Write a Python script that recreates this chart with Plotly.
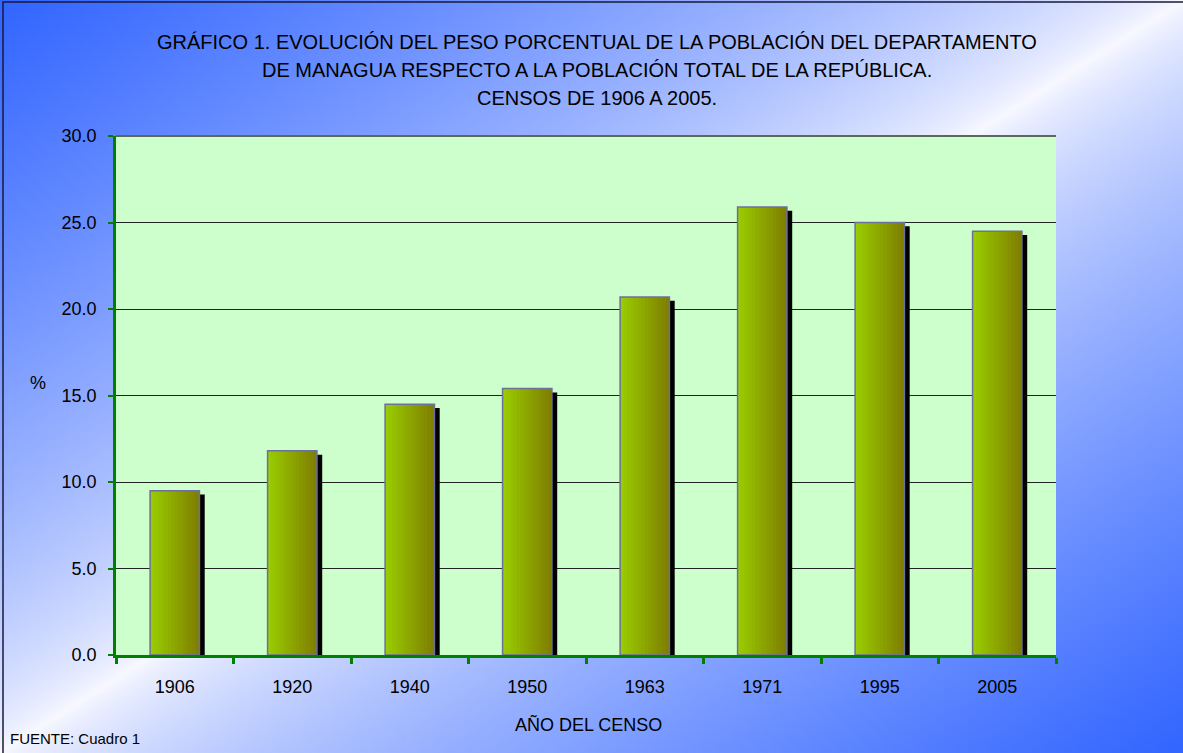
import base64, struct, zlib
import numpy as np
import plotly.graph_objects as go

# ---------------- data ----------------
years = ["1906", "1920", "1940", "1950", "1963", "1971", "1995", "2005"]
pct = [9.5, 11.8, 14.5, 15.4, 20.7, 25.9, 25.0, 24.5]
y_ticks = [0, 5, 10, 15, 20, 25, 30]
y_tick_labels = ["0.0", "5.0", "10.0", "15.0", "20.0", "25.0", "30.0"]

title_lines = [
    "GRÁFICO 1. EVOLUCIÓN DEL PESO PORCENTUAL DE LA POBLACIÓN DEL DEPARTAMENTO",
    "DE MANAGUA RESPECTO A LA POBLACIÓN TOTAL DE LA REPÚBLICA.",
    "CENSOS DE 1906 A 2005.",
]
x_title = "AÑO DEL CENSO"
y_title = "%"
source = "FUENTE: Cuadro 1"

# ---------------- layout geometry ----------------
W, H = 1183, 753
L, R, T, B = 116, 127, 136, 98
PW, PH = W - L - R, H - T - B
FONT = "Liberation Sans, Arial, sans-serif"


def px_x(px):
    return (px - L) / PW


def px_y(py):
    return 1 - (py - T) / PH


# ---------------- background gradient image ----------------
def make_bg(w=296, h=189):
    xs = np.linspace(0, 1, w)[None, :]
    ys = np.linspace(0, 1, h)[:, None]
    t = (xs + ys) / 2.0
    f = np.clip(np.abs(2 * t - 1), 0, 1) ** 0.7
    blue = np.array([51, 102, 255], float)
    white = np.array([250, 250, 255], float)
    img = white[None, None, :] * (1 - f[..., None]) + blue[None, None, :] * f[..., None]
    img = img.astype(np.uint8)
    raw = b"".join(b"\x00" + img[r].tobytes() for r in range(h))

    def chunk(tag, data):
        c = struct.pack(">I", len(data)) + tag + data
        return c + struct.pack(">I", zlib.crc32(tag + data) & 0xFFFFFFFF)

    png = b"\x89PNG\r\n\x1a\n"
    png += chunk(b"IHDR", struct.pack(">IIBBBBB", w, h, 8, 2, 0, 0, 0))
    png += chunk(b"IDAT", zlib.compress(raw, 9))
    png += chunk(b"IEND", b"")
    return "data:image/png;base64," + base64.b64encode(png).decode()


fig = go.Figure()

# ---------------- bars ----------------
bar_w = 0.42
shadow_dx = 0.045
shadow_drop = 0.22

# shadow
fig.add_trace(go.Bar(
    x=years, y=[v - shadow_drop for v in pct],
    width=bar_w, offset=-bar_w / 2 + shadow_dx,
    marker=dict(color="black", line=dict(width=0)),
    hoverinfo="skip", showlegend=False,
))

# gradient slices
N = 14
c0 = np.array([153, 204, 0], float)
c1 = np.array([128, 128, 0], float)
sw = bar_w / N
for i in range(N):
    f = i / (N - 1)
    c = c0 * (1 - f) + c1 * f
    fig.add_trace(go.Bar(
        x=years, y=pct,
        width=sw * 1.3 if i < N - 1 else sw,
        offset=-bar_w / 2 + i * sw,
        marker=dict(color="rgb(%d,%d,%d)" % tuple(c), line=dict(width=0)),
        hoverinfo="skip", showlegend=False,
    ))

# outline
fig.add_trace(go.Bar(
    x=years, y=pct, width=bar_w, offset=-bar_w / 2,
    marker=dict(color="rgba(0,0,0,0)", line=dict(color="#6f6f9f", width=1.5)),
    showlegend=False, name="%",
))

# ---------------- layout ----------------
ann = []
for i, (line, py) in enumerate(zip(title_lines, [42, 70, 98])):
    ann.append(dict(text=line, x=px_x(597), y=px_y(py), xref="paper", yref="paper",
                    xanchor="center", yanchor="middle", showarrow=False,
                    font=dict(family=FONT, size=20, color="black")))
ann.append(dict(text=y_title, x=px_x(38), y=px_y(383), xref="paper", yref="paper",
                xanchor="center", yanchor="middle", showarrow=False,
                font=dict(family=FONT, size=18, color="black")))
ann.append(dict(text=x_title, x=px_x(588), y=px_y(724), xref="paper", yref="paper",
                xanchor="center", yanchor="middle", showarrow=False,
                font=dict(family=FONT, size=18, color="black")))
ann.append(dict(text=source, x=px_x(8), y=px_y(738), xref="paper", yref="paper",
                xanchor="left", yanchor="middle", showarrow=False,
                font=dict(family=FONT, size=15, color="black")))

fig.update_layout(
    width=W, height=H,
    margin=dict(l=L, r=R, t=T, b=B, pad=0),
    barmode="overlay",
    paper_bgcolor="white",
    plot_bgcolor="#CCFFCC",
    showlegend=False,
    annotations=ann,
    images=[dict(source=make_bg(), xref="paper", yref="paper",
                 x=-L / PW, y=1 + T / PH, sizex=W / PW, sizey=H / PH,
                 xanchor="left", yanchor="top", sizing="stretch", layer="below")],
    shapes=[
        dict(type="rect", xref="x domain", yref="y domain", x0=0, x1=1, y0=0, y1=1,
             line=dict(width=0), fillcolor="#CCFFCC", layer="below"),
        dict(type="line", xref="x domain", yref="y domain", x0=0, x1=1, y0=1, y1=1,
             line=dict(color="#5a6a5a", width=2), layer="below"),
        dict(type="rect", xref="paper", yref="paper",
             x0=px_x(3), x1=px_x(W + 10), y0=px_y(H + 10), y1=px_y(2),
             line=dict(color="#1a1a3a", width=1.5), fillcolor="rgba(0,0,0,0)",
             layer="above"),
    ],
    xaxis=dict(
        type="category", categoryorder="array", categoryarray=years,
        range=[-0.5, len(years) - 0.5],
        showline=True, linecolor="#008000", linewidth=3,
        ticks="outside", tickson="boundaries", ticklen=6, tickwidth=2.5, tickcolor="#008000",
        tickfont=dict(family=FONT, size=18, color="black"),
        showgrid=False, zeroline=False, fixedrange=True,
        ticklabelstandoff=13,
    ),
    yaxis=dict(
        range=[0, 30], tickvals=y_ticks, ticktext=y_tick_labels,
        showline=True, linecolor="#008000", linewidth=2.5,
        ticks="outside", ticklen=5, tickwidth=2, tickcolor="#008000",
        tickfont=dict(family=FONT, size=18, color="black"),
        showgrid=True, gridcolor="#222222", gridwidth=1,
        zeroline=False, fixedrange=True,
        ticklabelstandoff=8,
    ),
)

fig.write_html(
    "out.html",
    config={"displayModeBar": False},
    post_script="document.body.style.margin='0';document.documentElement.style.overflow='hidden';",
)
